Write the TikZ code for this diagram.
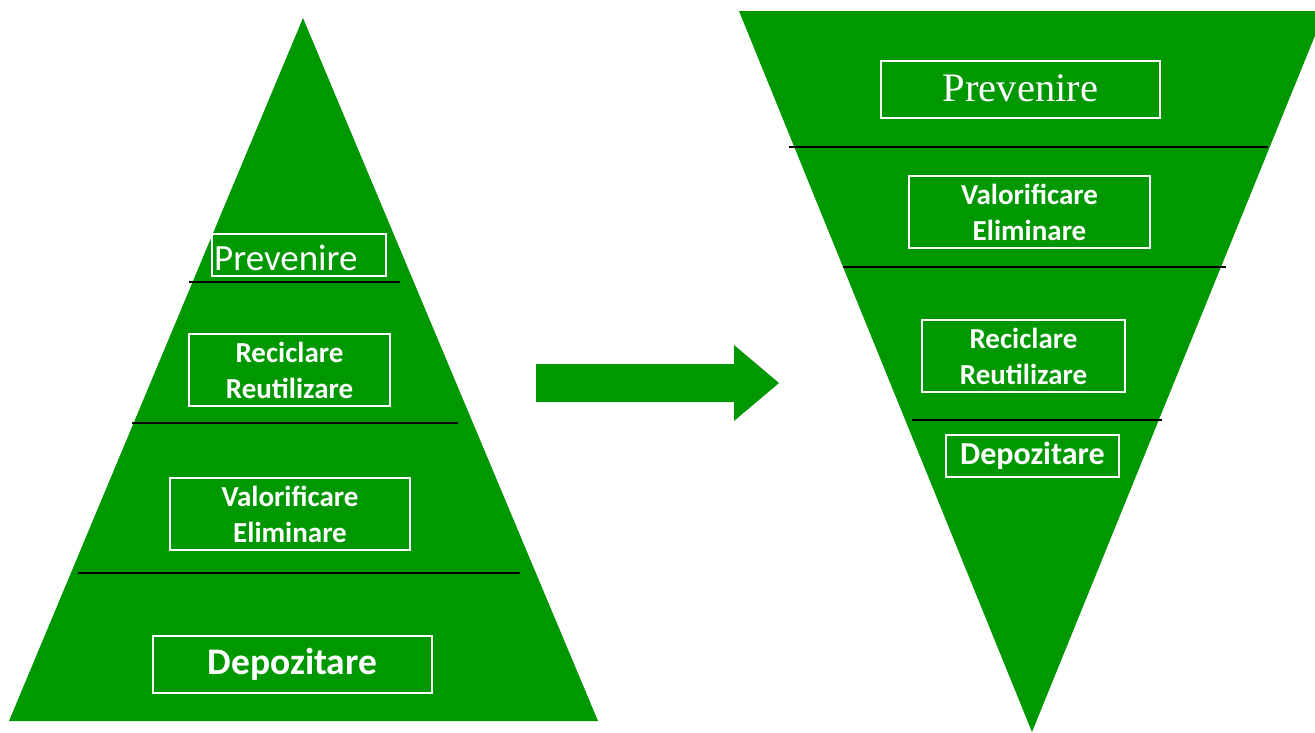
\documentclass[tikz,border=0pt]{standalone}
\usepackage{fontspec}
\setmainfont{Carlito}
\newfontfamily\serifcam{Liberation Serif}
\definecolor{pg}{RGB}{0,152,0}
\begin{document}
\begin{tikzpicture}[x=1pt,y=-1pt,
  box/.style={draw=white, line width=1.6pt, text=white, align=center, inner sep=0pt,
    font=\bfseries\fontsize{29}{36}\selectfont},
  sepline/.style={black, line width=1.6pt},
  txt/.style={text=white, inner sep=0pt}]
\useasboundingbox (0,0) rectangle (1315,732);
\begin{scope}
\clip (0,0) rectangle (1315,732);
% left pyramid
\fill[pg] (303,18) -- (598,721) -- (9,721) -- cycle;
% right inverted pyramid
\fill[pg] (739,11) -- (1325,11) -- (1032,732) -- cycle;
\end{scope}
% arrow
\fill[pg] (536,364) -- (734,364) -- (734,345) -- (779,383) -- (734,421) -- (734,402) -- (536,402) -- cycle;
% separator lines left
\draw[sepline] (189,282) -- (400,282);
\draw[sepline] (132,423) -- (458,423);
\draw[sepline] (78,573) -- (520,573);
% separator lines right
\draw[sepline] (789,147) -- (1268,147);
\draw[sepline] (843,267) -- (1226,267);
\draw[sepline] (912,420) -- (1162,420);
% left boxes
\node[box, minimum width=174pt, minimum height=42pt] (lprev) at (299,255) {};
\node[txt, anchor=base west, font=\fontsize{37}{40}\selectfont] (lprevt) at (214,270) {Prevenire};
\node[box, minimum width=201pt, minimum height=72pt] (lrec) at (289.5,370) {Reciclare\\Reutilizare};
\node[box, minimum width=240pt, minimum height=72pt] (lval) at (290,514) {Valorificare\\Eliminare};
\node[box, minimum width=279pt, minimum height=57pt, font=\bfseries\fontsize{37.5}{40}\selectfont] (ldep) at (292.5,664.5) {Depozitare};
% right boxes
\node[box, minimum width=279pt, minimum height=57pt, font=\serifcam\fontsize{40.5}{44}\selectfont] (rprev) at (1020.5,89.5) {\raisebox{3pt}{Prevenire}};
\node[box, minimum width=241pt, minimum height=72pt] (rval) at (1029.5,212) {Valorificare\\Eliminare};
\node[box, minimum width=203pt, minimum height=72pt] (rrec) at (1023.5,356) {Reciclare\\Reutilizare};
\node[box, minimum width=173pt, minimum height=42pt, font=\bfseries\fontsize{32}{36}\selectfont] (rdep) at (1032.5,456) {Depozitare};
\end{tikzpicture}
\end{document}
